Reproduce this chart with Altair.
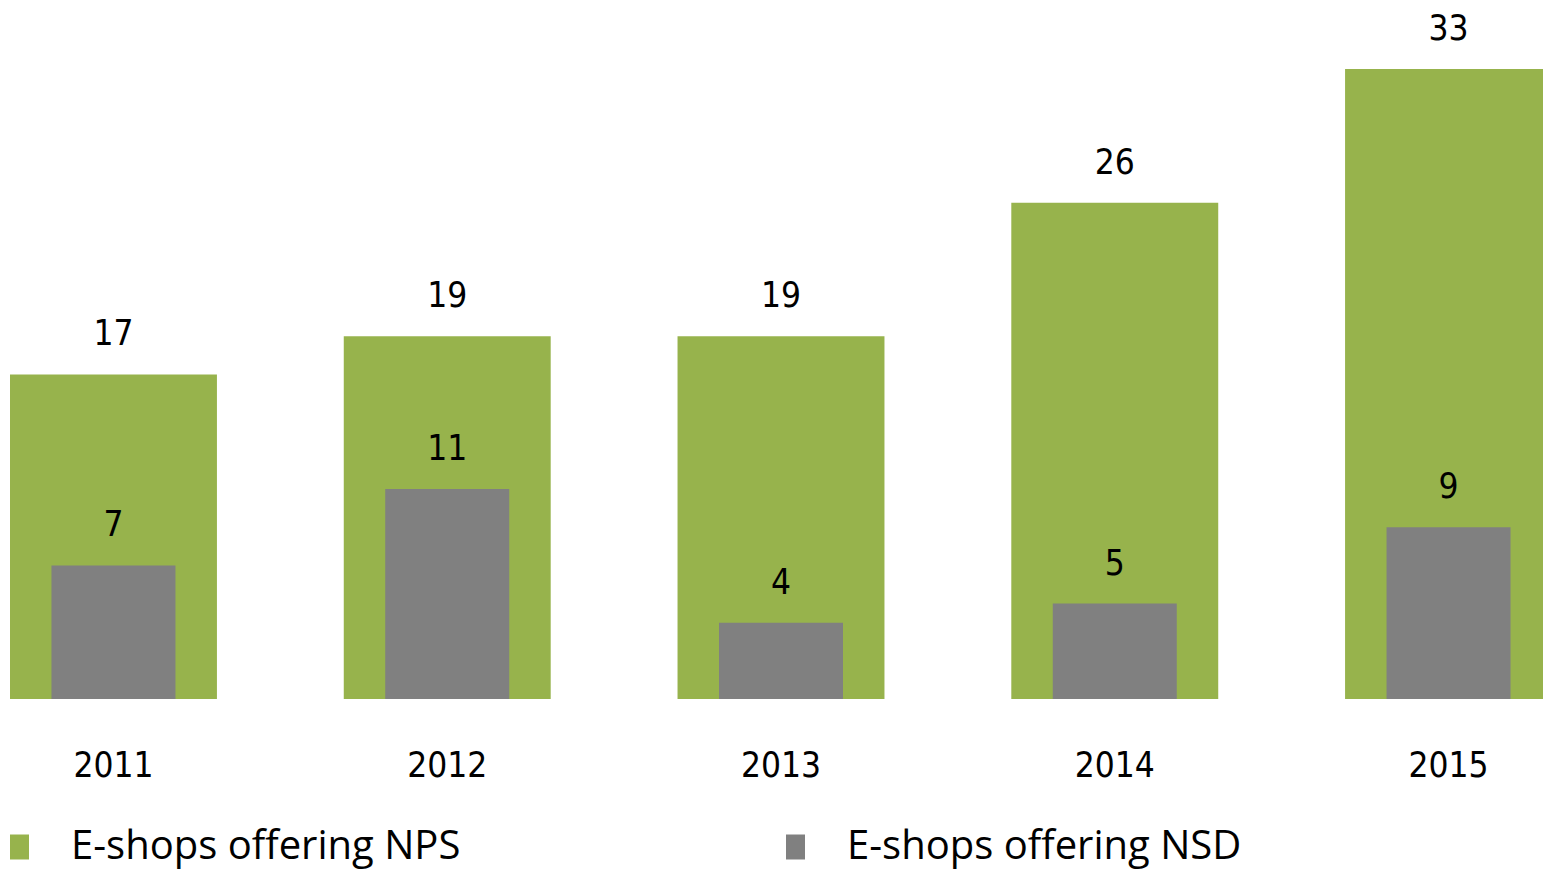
import altair as alt
import pandas as pd

years = ["2011", "2012", "2013", "2014", "2015"]
nps = [17, 19, 19, 26, 33]
nsd = [7, 11, 4, 5, 9]
series = ["E-shops offering NPS", "E-shops offering NSD"]
colors = ["#97B34C", "#808080"]

rows = []
for y, a, b in zip(years, nps, nsd):
    rows.append({"year": y, "series": series[0], "value": a})
    rows.append({"year": y, "series": series[1], "value": b})
df = pd.DataFrame(rows)

NUM_FONT = "Liberation Sans Narrow, DejaVu Sans Condensed, sans-serif"
NUM_SIZE = 35

x = alt.X("year:N", title=None, sort=years,
          scale=alt.Scale(range=[2, 1544], paddingInner=0.38, paddingOuter=0),
          axis=alt.Axis(labelAngle=0, ticks=False, domain=False, labelFont=NUM_FONT,
                        labelFontSize=NUM_SIZE, labelColor="#000000", labelBaseline="alphabetic",
                        labelPadding=77, grid=False))
y = alt.Y("value:Q", title=None, scale=alt.Scale(domain=[0, 36.2], nice=False),
          axis=None)
color = alt.Color("series:N", scale=alt.Scale(domain=series, range=colors),
                  legend=alt.Legend(title=None, orient="none", direction="horizontal",
                                    legendX=-8.5, legendY=819,
                                    symbolType="M-0.76,-1H0.76V1H-0.76Z",
                                    symbolSize=625, symbolOpacity=1,
                                    symbolStrokeWidth=0,
                                    labelFont="Open Sans", labelFontSize=40,
                                    labelColor="#000000", labelOffset=31.5,
                                    labelLimit=1000, columnPadding=315, padding=0))

base = alt.Chart(df)

green = base.transform_filter(alt.datum.series == series[0]).mark_bar().encode(
    x=x, y=y, color=color)
gray = base.transform_filter(alt.datum.series == series[1]).mark_bar(width=124).encode(
    x=x, y=y, color=color)
lab_green = base.transform_filter(alt.datum.series == series[0]).mark_text(
    font=NUM_FONT, fontSize=NUM_SIZE, dy=-29, baseline="alphabetic", color="#000000").encode(
    x=x, y=y, text="value:Q")
lab_gray = base.transform_filter(alt.datum.series == series[1]).mark_text(
    font=NUM_FONT, fontSize=NUM_SIZE, dy=-29, baseline="alphabetic", color="#000000").encode(
    x=x, y=y, text="value:Q")

chart = alt.layer(green, gray, lab_green, lab_gray).properties(
    width=1535, height=691,
    autosize=alt.AutoSizeParams(type="none"),
    padding={"left": 0, "top": 0, "right": 0, "bottom": 176},
).configure_view(stroke=None)

chart.save("out.html", embed_options={"renderer": "svg", "actions": False})
